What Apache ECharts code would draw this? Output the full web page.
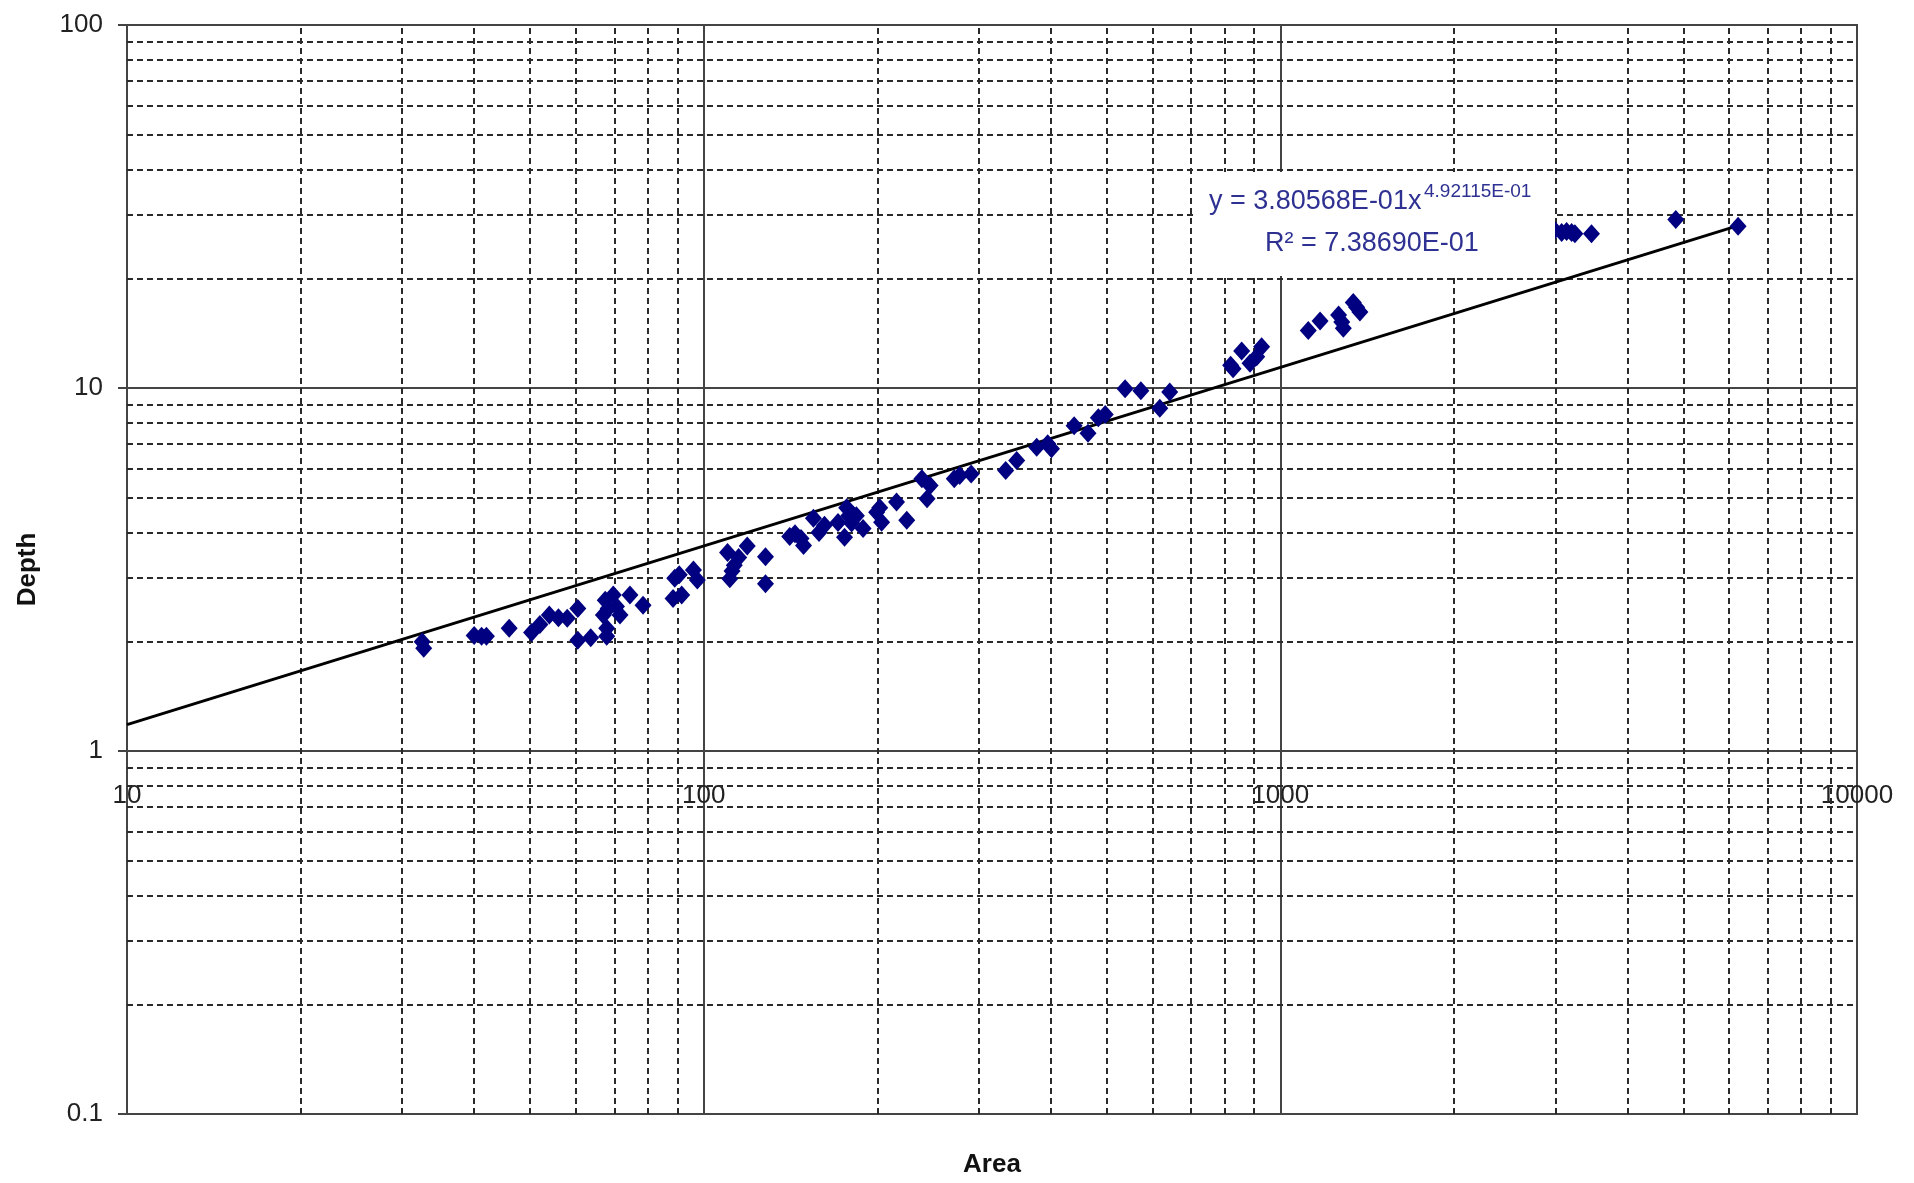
<!DOCTYPE html>
<html>
<head>
<meta charset="utf-8">
<title>Depth vs Area</title>
<script src="https://cdn.jsdelivr.net/npm/echarts@6/dist/echarts.min.js"></script>
<style>
  html, body { margin: 0; padding: 0; background: #ffffff; }
  #chart { width: 1914px; height: 1183px; }
</style>
</head>
<body>
<div id="chart"></div>
<script>
// Measured sites: surface area and depth
const AREA = [
  32.5, 32.7, 40.0, 41.2, 42.0, 46.0, 50.3, 52.0, 54.0, 56.0, 58.0,
  60.5, 60.5, 63.7, 67.5, 69.7, 68.3, 70.6, 71.6, 67.0, 67.9, 67.9,
  74.5, 78.5, 89.1, 90.7, 88.5, 91.6, 96.0, 97.5,
  110, 119, 115, 113, 112, 111, 128, 128,
  141, 144, 147.5, 149, 155, 158.5, 162,
  171, 175.5, 177, 178.5, 181.5, 180.5, 184,
  189, 199.5, 202, 203.5, 216, 225,
  239, 247, 244, 272, 278, 291,
  334, 349, 378, 395, 401, 439, 464, 483.5, 497,
  538, 573, 618, 643,
  820, 828, 857, 886, 910, 928,
  1118, 1172, 1262, 1278, 1286, 1338, 1356, 1374,
  2990, 3075, 3136, 3200, 3242, 3464, 4850, 6220
];
const DEPTH = [
  2.00, 1.92, 2.08, 2.07, 2.07, 2.18, 2.12, 2.23, 2.37, 2.33, 2.32,
  2.47, 2.02, 2.05, 2.60, 2.69, 2.47, 2.50, 2.37, 2.37, 2.18, 2.07,
  2.69, 2.52, 2.99, 3.06, 2.63, 2.69, 3.15, 2.96,
  3.52, 3.67, 3.41, 3.25, 3.13, 2.98, 3.43, 2.89,
  3.90, 3.97, 3.85, 3.68, 4.38, 4.00, 4.19,
  4.26, 3.88, 4.68, 4.45, 4.47, 4.25, 4.45,
  4.10, 4.55, 4.68, 4.27, 4.85, 4.32,
  5.62, 5.39, 4.95, 5.62, 5.74, 5.80,
  5.93, 6.31, 6.87, 7.02, 6.80, 7.87, 7.50, 8.28, 8.45,
  9.95, 9.83, 8.79, 9.75,
  11.55, 11.30, 12.65, 11.70, 12.20, 13.00,
  14.4, 15.3, 15.9, 15.2, 14.6, 17.2, 16.7, 16.2,
  27.2, 26.8, 27.0, 26.8, 26.6, 26.6, 29.1, 27.9
];

// Power trendline y = a * x^b
const TREND_COEF = 3.80568e-01;
const TREND_EXP = 4.92115e-01;
const TREND_R2 = 7.38690e-01;
const TREND_X = [10, 6220];

// Minor (dashed) grid values between the decades
const X_MINOR = [20, 30, 40, 50, 60, 70, 80, 90, 200, 300, 400, 500, 600, 700, 800, 900,
                 2000, 3000, 4000, 5000, 6000, 7000, 8000, 9000];
const Y_MINOR = [0.2, 0.3, 0.4, 0.5, 0.6, 0.7, 0.8, 0.9, 2, 3, 4, 5, 6, 7, 8, 9,
                 20, 30, 40, 50, 60, 70, 80, 90];

// Axis ranges and tick labels
const X_RANGE = [10, 10000];
const Y_RANGE = [0.1, 100];
const X_TICKS = ['10', '100', '1000', '10000'];
const Y_TICKS = ['0.1', '1', '10', '100'];

const FONT = '"Liberation Sans", Arial, sans-serif';
const points = AREA.map((a, i) => [a, DEPTH[i]]);
const trend = TREND_X.map(x => [x, TREND_COEF * Math.pow(x, TREND_EXP)]);

// Excel-style scientific notation, e.g. 3.80568E-01
const fmtSci = v => {
  const e = Math.floor(Math.log10(Math.abs(v)));
  const m = v / Math.pow(10, e);
  const es = (e < 0 ? '-' : '') + String(Math.abs(e)).padStart(2, '0');
  return m.toFixed(5) + 'E' + es;
};

const minorStyle = { type: [6, 4], color: '#2a2a2a', width: 2 };
const minorLines = [
  ...X_MINOR.map(v => ({ xAxis: v })),
  ...Y_MINOR.map(v => ({ yAxis: v }))
];

const chart = echarts.init(document.getElementById('chart'), null, { renderer: 'canvas' });
chart.setOption({
  animation: false,
  backgroundColor: '#ffffff',
  grid: [
    { left: 127, top: 25, width: 1730, height: 1092, show: true,
      borderColor: '#444', borderWidth: 2, backgroundColor: 'transparent', containLabel: false },
    // upper band (depth 1..100) used to place the area labels along depth = 1
    { left: 127, top: 25, width: 1730, height: 728, show: false, containLabel: false }
  ],
  xAxis: [
    {
      gridIndex: 0, type: 'log', logBase: 10, min: X_RANGE[0], max: X_RANGE[1],
      name: 'Area', nameLocation: 'middle', nameGap: 38,
      nameTextStyle: { fontFamily: FONT, fontSize: 26, fontWeight: 'bold', color: '#111' },
      axisLine: { show: false }, axisTick: { show: false },
      axisLabel: { show: false },
      splitLine: { show: true, lineStyle: { color: '#444', width: 2, type: 'solid' } }
    },
    {
      gridIndex: 1, type: 'log', logBase: 10, min: X_RANGE[0], max: X_RANGE[1],
      axisLine: { show: false }, axisTick: { show: false }, splitLine: { show: false },
      axisLabel: {
        show: true, margin: 30, fontFamily: FONT, fontSize: 26, color: '#222',
        showMinLabel: true, showMaxLabel: true,
        formatter: v => X_TICKS[Math.round(Math.log10(v)) - 1]
      }
    }
  ],
  yAxis: [
    {
      gridIndex: 0, type: 'log', logBase: 10, min: Y_RANGE[0], max: Y_RANGE[1],
      name: 'Depth', nameLocation: 'middle', nameGap: 86, nameRotate: 90,
      nameTextStyle: { fontFamily: FONT, fontSize: 26, fontWeight: 'bold', color: '#111' },
      axisLine: { show: false },
      axisTick: { show: true, inside: false, length: 9, lineStyle: { color: '#444', width: 2 } },
      axisLabel: {
        margin: 24, fontFamily: FONT, fontSize: 26, color: '#222',
        showMinLabel: true, showMaxLabel: true,
        formatter: v => Y_TICKS[Math.round(Math.log10(v)) + 1]
      },
      splitLine: { show: true, lineStyle: { color: '#444', width: 2, type: 'solid' } }
    },
    {
      gridIndex: 1, type: 'log', logBase: 10, min: 1, max: 100, show: false
    }
  ],
  series: [
    {
      name: 'Depth',
      type: 'scatter',
      xAxisIndex: 0, yAxisIndex: 0,
      data: points,
      symbol: 'diamond',
      symbolSize: [17, 19],
      itemStyle: { color: '#000080', opacity: 1 },
      z: 5,
      markLine: {
        silent: true,
        symbol: ['none', 'none'],
        label: { show: false },
        lineStyle: minorStyle,
        emphasis: { disabled: true },
        data: minorLines,
        z: 1
      }
    },
    {
      name: 'Power trend',
      type: 'line',
      xAxisIndex: 0, yAxisIndex: 0,
      data: trend,
      showSymbol: false, symbol: 'none',
      lineStyle: { color: '#000', width: 3 },
      z: 4
    }
  ],
  graphic: [
    { type: 'rect', z: 50, shape: { x: 1195, y: 172, width: 360, height: 104 },
      style: { fill: '#ffffff' } },
    { type: 'text', z: 51, left: 1209, top: 188,
      style: { text: 'y = ' + fmtSci(TREND_COEF) + 'x', font: '27px ' + FONT, fill: '#2e3192' } },
    { type: 'text', z: 51, left: 1424, top: 182,
      style: { text: fmtSci(TREND_EXP), font: '19px ' + FONT, fill: '#2e3192' } },
    { type: 'text', z: 51, left: 1265, top: 230,
      style: { text: 'R\u00B2 = ' + fmtSci(TREND_R2), font: '27px ' + FONT, fill: '#2e3192' } }
  ]
});
</script>
</body>
</html>
